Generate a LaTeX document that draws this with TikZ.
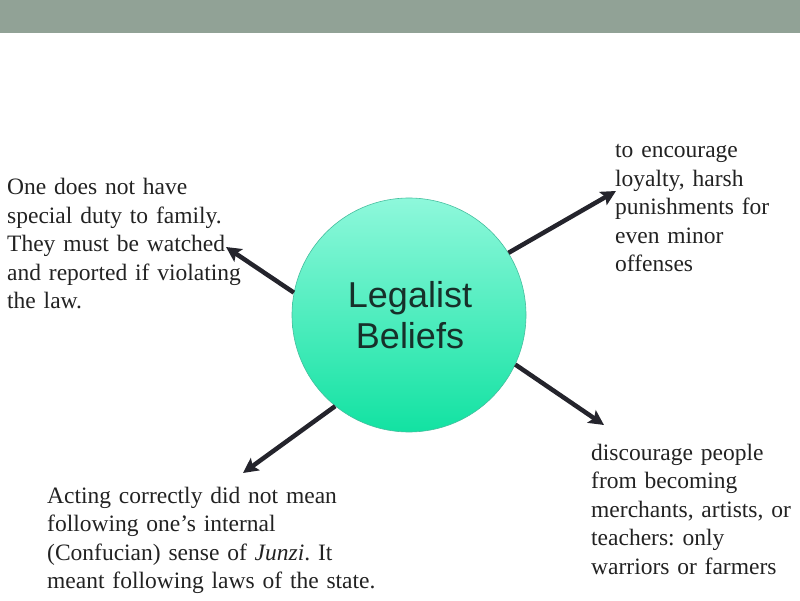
\documentclass[tikz,border=0pt]{standalone}
\usepackage{fontspec}
\setmainfont{Liberation Serif}
\newfontfamily\circfont{Liberation Sans}
\usetikzlibrary{arrows.meta}
\definecolor{barcol}{HTML}{91A296}
\definecolor{toptxt}{HTML}{222222}
\definecolor{arrowcol}{HTML}{24242C}
\definecolor{circtop}{HTML}{8EF8DB}
\definecolor{circbot}{HTML}{12E2A2}
\definecolor{circedge}{HTML}{45BE9E}
\definecolor{circtext}{HTML}{17302A}
\tikzset{
  x=1pt,y=1pt,
  bodytext/.style={font=\fontsize{23.5}{28.5}\selectfont\frenchspacing, text=toptxt, inner sep=0pt, anchor=base west, align=left},
  bigcircle/.style={circle, minimum size=234pt, inner sep=0pt, top color=circtop, bottom color=circbot, draw=circedge, line width=0.6pt},
  conn/.style={draw=arrowcol, line width=4.5pt, -{Stealth[length=15pt,width=15pt,inset=3pt]}}
}
\begin{document}
\begin{tikzpicture}
\useasboundingbox (0,0) rectangle (800,600);
\fill[barcol] (0,567) rectangle (800,600);
\node[bigcircle] (c) at (409,285) {};
\node[font=\circfont\fontsize{36}{41}\selectfont, text=circtext, align=center] (ct) at (410,285) {Legalist\\Beliefs};
\node[bodytext, text width=250pt] (t1) at (7,405) {One does not have\\special duty to family.\\They must be watched\\and reported if violating\\the law.};
\node[bodytext, text width=180pt] (t2) at (615,442) {to encourage\\loyalty, harsh\\punishments for\\even minor\\offenses};
\node[bodytext, text width=340pt] (t3) at (47,97) {Acting correctly did not mean\\following one’s internal\\(Confucian) sense of \textit{Junzi}. It\\meant following laws of the state.};
\node[bodytext, text width=205pt] (t4) at (591,140) {discourage people\\from becoming\\merchants, artists, or\\teachers: only\\warriors or farmers};
\coordinate (e1) at (226,353);
\coordinate (e2) at (616,409);
\coordinate (e3) at (604,175);
\coordinate (e4) at (243,127);
\draw[conn] (c.169.4) -- (e1);
\draw[conn] (c.32.7) -- (e2);
\draw[conn] (c.-25.7) -- (e3);
\draw[conn] (c.231.2) -- (e4);
\end{tikzpicture}
\end{document}
